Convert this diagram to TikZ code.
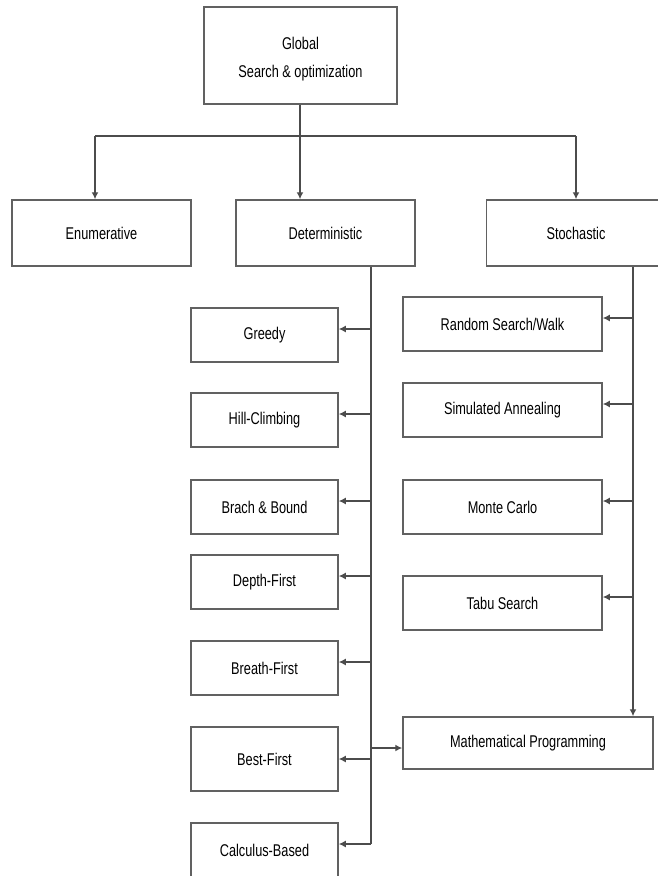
\documentclass[tikz,border=0pt]{standalone}
\usepackage{fontspec}
\setmainfont{Liberation Sans}[FakeStretch=0.75]
\usetikzlibrary{arrows.meta}
\begin{document}
\begin{tikzpicture}[x=1pt,y=-1pt,
  line width=1.5pt,
  every node/.style={font=\fontsize{17}{28}\selectfont},
  box/.style={draw=black!62, inner sep=0pt, align=center},
  leftbox/.style={box, minimum width=147pt, minimum height=54pt},
  rightbox/.style={box, minimum width=199pt, minimum height=54pt},
  topbox/.style={box, minimum width=179pt, minimum height=66pt},
  wire/.style={draw=black!70},
  arr/.style={wire, -{Latex[length=7pt,width=7pt]}}]
\useasboundingbox (0,0) rectangle (658,876);
\clip (0,0) rectangle (658,876);

% root
\node[box, minimum width=193pt, minimum height=97pt] (glob) at (300.5,55.5) {\rule{0pt}{19pt}Global\\Search \& optimization};

% first level
\node[topbox] (enum)  at (101.5,233) {Enumerative};
\node[topbox] (det)   at (325.5,233) {Deterministic};
\node[topbox] (stoch) at (576,233)   {Stochastic};

% deterministic methods
\node[leftbox] (greedy) at (264.5,335) {Greedy};
\node[leftbox] (hill)   at (264.5,420) {Hill-Climbing};
\node[leftbox] (bb)     at (264.5,507) {Brach \& Bound};
\node[leftbox] (depth)  at (264.5,582) {Depth-First};
\node[leftbox] (breath) at (264.5,668) {Breath-First};
\node[leftbox, minimum height=64pt] (best) at (264.5,759) {Best-First};
\node[leftbox] (calc)   at (264.5,850) {Calculus-Based};

% stochastic methods
\node[rightbox] (rand)  at (502.5,324) {Random Search/Walk};
\node[rightbox] (sim)   at (502.5,410) {Simulated Annealing};
\node[rightbox] (monte) at (502.5,507) {Monte Carlo};
\node[rightbox] (tabu)  at (502.5,603) {Tabu Search};
\node[box, minimum width=250pt, minimum height=52pt] (math) at (528,743) {Mathematical Programming};

% branching bar below the root
\coordinate (barL) at (95,136);
\coordinate (barM) at (300,136);
\coordinate (barR) at (576,136);
\draw[wire] (barL) -- (barR);
\draw[arr] (glob.south -| barM) -- (barM |- det.north);
\draw[arr] (barL) -- (barL |- enum.north);
\draw[arr] (barR) -- (barR |- stoch.north);

% deterministic spine
\coordinate (dl) at (371,0);
\draw[wire] (dl |- det.south) -- ([yshift=6pt]calc.east -| dl);
\foreach \n in {greedy,hill,bb,depth,breath,calc}
  \draw[arr] ([yshift=6pt]\n.east -| dl) -- ([yshift=6pt]\n.east);
\draw[arr] (best.east -| dl) -- (best.east);
\draw[arr] ([yshift=-5pt]math.west -| dl) -- ([yshift=-5pt]math.west);

% stochastic spine
\coordinate (sl) at (633,0);
\draw[arr] (sl |- stoch.south) -- (sl |- math.north);
\foreach \n in {rand,sim,monte,tabu}
  \draw[arr] ([yshift=6pt]\n.east -| sl) -- ([yshift=6pt]\n.east);
\end{tikzpicture}
\end{document}
